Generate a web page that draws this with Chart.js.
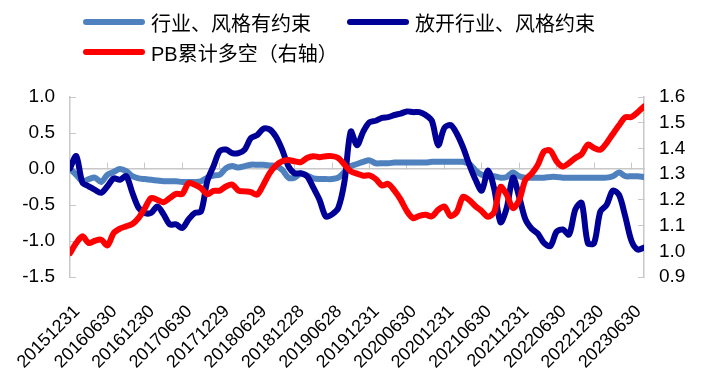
<!DOCTYPE html>
<html>
<head>
<meta charset="utf-8">
<script src="https://cdn.jsdelivr.net/npm/chart.js@4.4.1/dist/chart.umd.min.js"></script>
<style>
  html, body { margin: 0; padding: 0; background: #fff; }
  #wrap { position: relative; width: 702px; height: 387px; overflow: hidden; }
  #c { position: absolute; left: 0; top: 0; }
  .leg-item { position: absolute; height: 30px; display: flex; align-items: center; white-space: nowrap;
              font: 20px "Liberation Sans", Arial, "Noto Sans CJK SC", sans-serif; color: #000; }
  .leg-line { width: 62px; height: 6px; border-radius: 3px; margin-right: 6px; }
</style>
</head>
<body>
<div id="wrap">
  <canvas id="c" width="702" height="387"></canvas>
  <div id="legend"></div>
</div>
<script>
// ---- tick labels (one every 6 months) ----
const tickLabels = ['20151231','20160630','20161230','20170630','20171229','20180629','20181228','20190628',
                    '20191231','20200630','20201231','20210630','20211231','20220630','20221230','20230630'];
const MONTHS_PER_TICK = 6;

// ---- series names ----
const seriesNames = ['行业、风格有约束', '放开行业、风格约束', 'PB累计多空（右轴）'];

// ---- monthly values, Dec 2015 .. Aug 2023 (left axis) ----
const constrained = [
  0.00,-0.08,-0.17,-0.14,-0.12,-0.18,-0.08,-0.04, 0.00,-0.03,-0.10,-0.13,-0.14,-0.15,-0.16,-0.17,
 -0.17,-0.17,-0.18,-0.18,-0.18,-0.17,-0.12,-0.09,-0.08, 0.01, 0.04, 0.02, 0.04, 0.06, 0.06, 0.06,
  0.05, 0.04,-0.01,-0.12,-0.12,-0.06,-0.09,-0.13,-0.14,-0.14,-0.14,-0.12,-0.04, 0.04, 0.07, 0.10,
  0.12, 0.08, 0.08, 0.08, 0.09, 0.09, 0.09, 0.09, 0.09, 0.09, 0.10, 0.10, 0.10, 0.10, 0.10, 0.10,
  0.07,-0.02,-0.08,-0.10,-0.10,-0.12,-0.11,-0.05,-0.10,-0.12,-0.12,-0.12,-0.12,-0.11,-0.11,-0.12,
 -0.12,-0.12,-0.12,-0.12,-0.12,-0.12,-0.12,-0.10,-0.05,-0.10,-0.10,-0.10,-0.11
];
const unconstrained = [
  0.01, 0.18,-0.19,-0.24,-0.29,-0.33,-0.24,-0.13,-0.15,-0.10,-0.33,-0.54,-0.61,-0.61,-0.52,-0.63,
 -0.77,-0.77,-0.82,-0.70,-0.61,-0.59,-0.17, 0.04, 0.25, 0.27, 0.22, 0.22, 0.27, 0.43, 0.47, 0.56,
  0.55, 0.45, 0.27, 0.04,-0.06,-0.06,-0.10,-0.26,-0.43,-0.66,-0.63,-0.54,-0.17, 0.52, 0.33, 0.52,
  0.65, 0.67, 0.71, 0.72, 0.75, 0.77, 0.80, 0.79, 0.79, 0.75, 0.67, 0.33, 0.57, 0.61, 0.49, 0.30,
  0.06,-0.15,-0.30,-0.02,-0.28,-0.74,-0.54,-0.12,-0.39,-0.70,-0.83,-0.90,-1.03,-1.07,-0.87,-0.84,
 -0.91,-0.56,-0.47,-1.03,-1.03,-0.59,-0.50,-0.30,-0.36,-0.66,-1.00,-1.12,-1.09
];
// ---- right axis ----
const pbLongShort = [
  0.993,1.032,1.058,1.032,1.041,1.045,1.023,1.071,1.088,1.097,1.106,1.130,1.168,1.207,1.200,1.191,
  1.207,1.223,1.223,1.265,1.259,1.246,1.222,1.235,1.236,1.252,1.259,1.236,1.233,1.230,1.220,1.259,
  1.304,1.333,1.350,1.355,1.350,1.347,1.363,1.370,1.366,1.370,1.370,1.363,1.337,1.311,1.302,1.294,
  1.295,1.281,1.256,1.262,1.236,1.201,1.156,1.129,1.138,1.142,1.136,1.161,1.174,1.137,1.153,1.212,
  1.199,1.175,1.156,1.134,1.153,1.250,1.220,1.168,1.200,1.278,1.302,1.337,1.389,1.391,1.350,1.330,
  1.343,1.363,1.378,1.415,1.402,1.395,1.421,1.456,1.490,1.521,1.522,1.541,1.563
];

const seriesColors = ['#4E81BD', '#000096', '#FF0000'];
const monthIndex = constrained.map((_, i) => i);

// ---- HTML legend ----
const legendPos = [[83, 7], [347, 7], [83, 37]];
const legendEl = document.getElementById('legend');
seriesNames.forEach((name, k) => {
  const item = document.createElement('div');
  item.className = 'leg-item';
  item.style.left = legendPos[k][0] + 'px';
  item.style.top = legendPos[k][1] + 'px';
  const line = document.createElement('span');
  line.className = 'leg-line';
  line.style.background = seriesColors[k];
  const txt = document.createElement('span');
  txt.textContent = name;
  item.appendChild(line);
  item.appendChild(txt);
  legendEl.appendChild(item);
});

const axisGrey = '#c8c8c8';
const tickFont = { family: '"Liberation Sans", Arial, sans-serif', size: 19 };
const xFont = { family: '"Liberation Sans", Arial, sans-serif', size: 18 };
const setTicks = s => { s.ticks = tickLabels.map((_, k) => ({ value: k * MONTHS_PER_TICK })); };

new Chart(document.getElementById('c'), {
  type: 'line',
  data: {
    labels: monthIndex,
    datasets: [
      { label: seriesNames[0], data: constrained, xAxisID: 'x', yAxisID: 'y',
        borderColor: seriesColors[0], backgroundColor: seriesColors[0], order: 2 },
      { label: seriesNames[1], data: unconstrained, xAxisID: 'x', yAxisID: 'y',
        borderColor: seriesColors[1], backgroundColor: seriesColors[1], order: 1 },
      { label: seriesNames[2], data: pbLongShort, xAxisID: 'x', yAxisID: 'y1',
        borderColor: seriesColors[2], backgroundColor: seriesColors[2], order: 0 }
    ]
  },
  options: {
    responsive: false,
    animation: false,
    devicePixelRatio: 1,
    layout: { padding: { top: 97, left: 0, right: 0, bottom: 0 } },
    elements: {
      point: { radius: 0 },
      line: { borderWidth: 6, tension: 0.3, borderCapStyle: 'round', borderJoinStyle: 'round', fill: false }
    },
    plugins: { legend: { display: false }, tooltip: { enabled: false } },
    scales: {
      x: {
        type: 'linear', position: 'bottom', min: 0, max: monthIndex.length - 1,
        afterBuildTicks: setTicks,
        afterFit: s => { s.height = 110; s.paddingLeft = 0; s.paddingRight = 0; },
        grid: { display: false, drawTicks: false },
        border: { display: false },
        ticks: { autoSkip: false, minRotation: 45, maxRotation: 45, padding: 24, labelOffset: 7,
                 color: '#000', font: xFont,
                 callback: v => tickLabels[Math.round(v / MONTHS_PER_TICK)] }
      },
      xz: {
        type: 'linear', axis: 'x', position: { y: 0 }, min: 0, max: monthIndex.length - 1,
        afterBuildTicks: setTicks,
        afterFit: s => { s.paddingLeft = 0; s.paddingRight = 0; },
        grid: { drawOnChartArea: false, tickLength: -7, color: axisGrey, lineWidth: 1 },
        border: { color: axisGrey, width: 1.5 },
        ticks: { display: false }
      },
      y: {
        position: 'left', min: -1.5, max: 1.0,
        afterFit: s => { s.width = 70; },
        grid: { drawOnChartArea: false, tickLength: -6, color: axisGrey },
        border: { color: axisGrey, width: 1.5 },
        ticks: { stepSize: 0.5, autoSkip: false, padding: 21, color: '#000', font: tickFont, callback: v => v.toFixed(1) }
      },
      y1: {
        position: 'right', min: 0.9, max: 1.6,
        afterFit: s => { s.width = 58; },
        grid: { drawOnChartArea: false, tickLength: -6, color: axisGrey },
        border: { color: axisGrey, width: 1.5 },
        ticks: { stepSize: 0.1, autoSkip: false, padding: 21, color: '#000', font: tickFont, callback: v => v.toFixed(1) }
      }
    }
  }
});
</script>
</body>
</html>
